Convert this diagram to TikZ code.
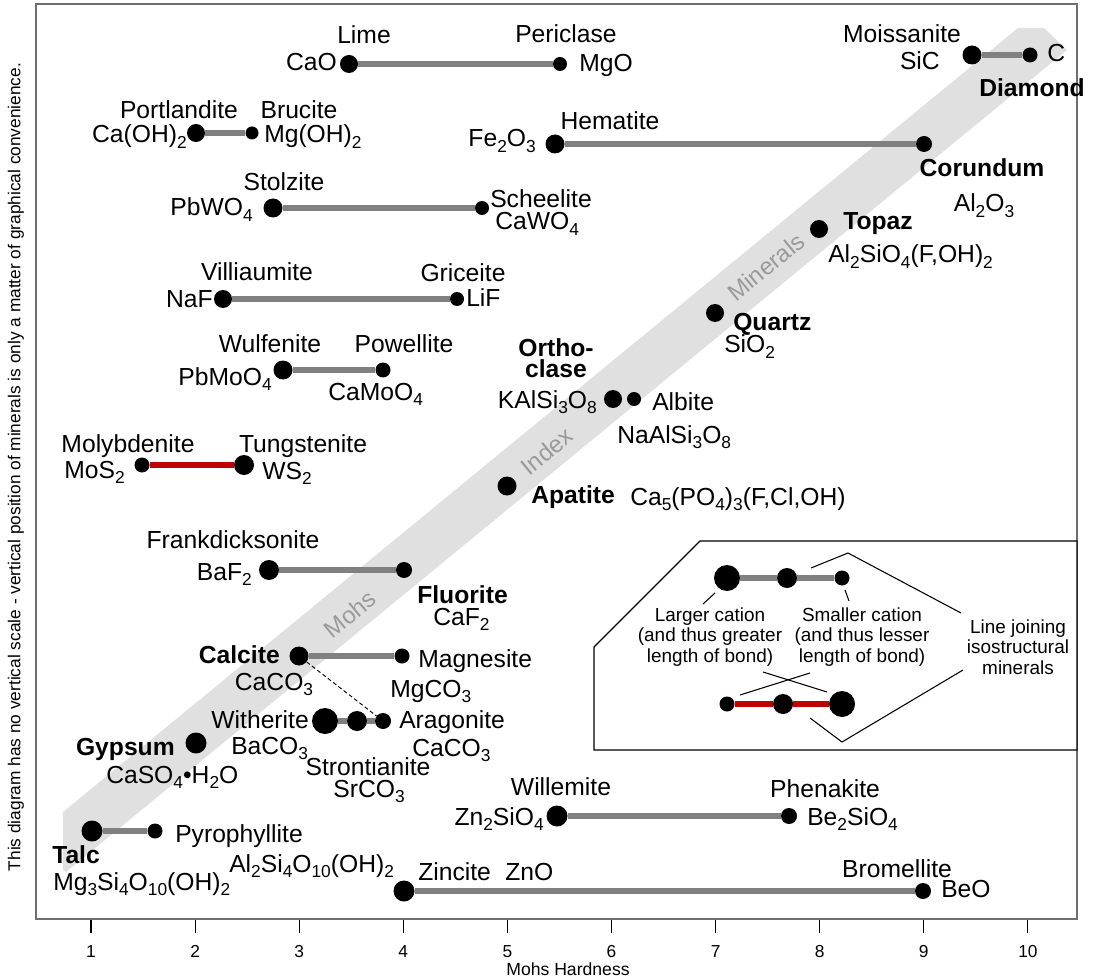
\documentclass[tikz,border=0pt]{standalone}
\usepackage{fontspec}
\setmainfont{Liberation Sans}
\definecolor{bandgray}{HTML}{E0E0E0}
\definecolor{bondgray}{HTML}{808080}
\definecolor{bondred}{HTML}{C00000}
\definecolor{framegray}{HTML}{6E6E6E}
\definecolor{bandtext}{HTML}{9A9A9A}
\newcommand{\lblfont}{\fontsize{18.5}{21}\selectfont}
\newcommand{\legfont}{\fontsize{14.2}{15.5}\selectfont}
\newcommand{\subs}[1]{\raisebox{-0.22em}{\fontsize{13}{13}\selectfont #1}}
\begin{document}
\begin{tikzpicture}[x=0.75pt,y=-0.75pt,
  mdot/.style={circle,fill=black,inner sep=0pt,minimum size=#1*0.75pt},
  bondline/.style={line width=4pt,draw=bondgray},
  redline/.style={line width=4pt,draw=bondred},
  lbl/.style={inner sep=0pt,font=\lblfont},
  blbl/.style={inner sep=0pt,font=\lblfont\bfseries},
  leg/.style={inner sep=0pt,font=\legfont,align=center},
  bandlbl/.style={inner sep=0pt,font=\fontsize{18}{20}\selectfont,text=bandtext,rotate=39.4},
  thinline/.style={line width=0.8pt,draw=black},
]
\useasboundingbox (0,0) rectangle (1095,980);
% band
\fill[bandgray] (63,812) -- (1018,28) -- (1044,28) -- (1067,50) -- (66,872) -- (63,870) -- cycle;
\node[bandlbl] (tmohs) at (350,614) {Mohs};
\node[bandlbl] (tindex) at (547,451) {Index};
\node[bandlbl] (tmin) at (766,267) {Minerals};
% frame
\draw[framegray,line width=1.4pt] (36,4) rectangle (1077,919);
% axis
\foreach \i in {1,...,10}{
  \draw[black,line width=0.8pt] ({91+(\i-1)*104.1},920) -- ({91+(\i-1)*104.1},933);
  \node[inner sep=0pt,font=\fontsize{13}{14}\selectfont,anchor=base] (tick\i) at ({91+(\i-1)*104.1},957) {\i};
}
\node[inner sep=0pt,font=\fontsize{13.2}{14}\selectfont,anchor=base] (xlabel) at (568,975) {Mohs Hardness};
\node[inner sep=0pt,rotate=90] (vnote) at (16,467) {\resizebox{606pt}{!}{This diagram has no vertical scale - vertical position of minerals is only a matter of graphical convenience.}};

% dots
\node[mdot=18] (cao) at (349,64) {};
\node[mdot=14] (mgo) at (560,64) {};
\node[mdot=19] (sic) at (972,55) {};
\node[mdot=15] (cdia) at (1030,55) {};
\node[mdot=18] (caoh) at (196,133) {};
\node[mdot=13] (mgoh) at (252,133) {};
\node[mdot=19] (fe) at (555,144) {};
\node[mdot=16] (al) at (924,144) {};
\node[mdot=19] (pbw) at (273,208) {};
\node[mdot=14] (caw) at (482,208) {};
\node[mdot=18] (topaz) at (819,229) {};
\node[mdot=18] (naf) at (223,299) {};
\node[mdot=14] (lif) at (457,299) {};
\node[mdot=18] (quartz) at (715,313) {};
\node[mdot=19] (pbmo) at (283,370) {};
\node[mdot=15] (camo) at (383,370) {};
\node[mdot=18] (ortho) at (613,399) {};
\node[mdot=14] (albite) at (634,399) {};
\node[mdot=15] (mos) at (142,465) {};
\node[mdot=20] (ws) at (244,465) {};
\node[mdot=19] (apatite) at (507,486) {};
\node[mdot=20] (baf) at (269,570) {};
\node[mdot=16] (caf) at (404,570) {};
\node[mdot=19] (calcite) at (299,656) {};
\node[mdot=15] (magn) at (402,656) {};
\node[mdot=26] (with) at (325,721) {};
\node[mdot=20] (stron) at (357,721) {};
\node[mdot=16] (arag) at (383,721) {};
\node[mdot=21] (gyp) at (196,743) {};
\node[mdot=21] (zn2) at (557,816) {};
\node[mdot=16] (be2) at (789,816) {};
\node[mdot=21] (talc) at (92,831) {};
\node[mdot=15] (pyro) at (155,831) {};
\node[mdot=21] (zinc) at (404,891) {};
\node[mdot=16] (brom) at (923,891) {};

% bonds
\draw[bondline] (cao) -- (mgo);
\draw[bondline] (sic) -- (cdia);
\draw[bondline] (caoh) -- (mgoh);
\draw[bondline] (fe) -- (al);
\draw[bondline] (pbw) -- (caw);
\draw[bondline] (naf) -- (lif);
\draw[bondline] (pbmo) -- (camo);
\draw[redline] (mos) -- (ws);
\draw[bondline] (baf) -- (caf);
\draw[bondline] (calcite) -- (magn);
\draw[bondline] (with) -- (stron) -- (arag);
\draw[bondline] (zn2) -- (be2);
\draw[bondline] (talc) -- (pyro);
\draw[bondline] (zinc) -- (brom);
\draw[line width=0.7pt,dash pattern=on 3pt off 2pt] (calcite) -- (arag);

% labels
\node[lbl,anchor=base] (llime) at (364,44) {Lime};
\node[lbl,anchor=base east] (lcao) at (337,71) {CaO};
\node[lbl,anchor=base] (lper) at (566,43) {Periclase};
\node[lbl,anchor=base west] (lmgo) at (579,72) {MgO};
\node[lbl,anchor=base] (lmoi) at (902,43) {Moissanite};
\node[lbl,anchor=base east] (lsic) at (940,70) {SiC};
\node[lbl,anchor=base west] (lc) at (1047,62) {C};
\node[blbl,anchor=base] (ldia) at (1032,97) {Diamond};
\node[lbl,anchor=base] (lport) at (179,119) {Portlandite};
\node[lbl,anchor=base] (lbru) at (299,119) {Brucite};
\node[lbl,anchor=base east] (lcaoh) at (187,143) {Ca(OH)\subs{2}};
\node[lbl,anchor=base west] (lmgoh) at (264,143) {Mg(OH)\subs{2}};
\node[lbl,anchor=base] (lhem) at (610,130) {Hematite};
\node[lbl,anchor=base east] (lfe) at (536,147) {Fe\subs{2}O\subs{3}};
\node[blbl,anchor=base] (lcor) at (982,177) {Corundum};
\node[lbl,anchor=base] (lal) at (984,212) {Al\subs{2}O\subs{3}};
\node[lbl,anchor=base] (lstol) at (284,191) {Stolzite};
\node[lbl,anchor=base east] (lpbw) at (253,216) {PbWO\subs{4}};
\node[lbl,anchor=base west] (lsch) at (490,208) {Scheelite};
\node[lbl,anchor=base west] (lcaw) at (495,230) {CaWO\subs{4}};
\node[blbl,anchor=base west] (ltop) at (843,230) {Topaz};
\node[lbl,anchor=base west] (ltopf) at (828,263) {Al\subs{2}SiO\subs{4}(F,OH)\subs{2}};
\node[lbl,anchor=base] (lvil) at (257,281) {Villiaumite};
\node[lbl,anchor=base east] (lnaf) at (213,308) {NaF};
\node[lbl,anchor=base] (lgri) at (463,282) {Griceite};
\node[lbl,anchor=base west] (llif) at (466,307) {LiF};
\node[blbl,anchor=base west] (lqua) at (733,330) {Quartz};
\node[lbl,anchor=base west] (lsio) at (724,353) {SiO\subs{2}};
\node[lbl,anchor=base] (lwul) at (270,353) {Wulfenite};
\node[lbl,anchor=base] (lpow) at (404,353) {Powellite};
\node[lbl,anchor=base east] (lpbmo) at (272,385) {PbMoO\subs{4}};
\node[lbl,anchor=base west] (lcamo) at (328,400) {CaMoO\subs{4}};
\node[blbl,anchor=base] (lorth1) at (556,357) {Ortho-};
\node[blbl,anchor=base] (lorth2) at (556,378) {clase};
\node[lbl,anchor=base east] (lkal) at (597,408) {KAlSi\subs{3}O\subs{8}};
\node[lbl,anchor=base west] (lalb) at (652,410) {Albite};
\node[lbl,anchor=base west] (lnaal) at (617,443) {NaAlSi\subs{3}O\subs{8}};
\node[lbl,anchor=base] (lmol) at (128,452) {Molybdenite};
\node[lbl,anchor=base] (ltun) at (303,452) {Tungstenite};
\node[lbl,anchor=base east] (lmos) at (125,478) {MoS\subs{2}};
\node[lbl,anchor=base west] (lws) at (262,479) {WS\subs{2}};
\node[blbl,anchor=base west] (lapa) at (531,503) {Apatite};
\node[lbl,anchor=base west] (lapaf) at (630,505) {Ca\subs{5}(PO\subs{4})\subs{3}(F,Cl,OH)};
\node[lbl,anchor=base] (lfra) at (233,548) {Frankdicksonite};
\node[lbl,anchor=base east] (lbaf) at (252,580) {BaF\subs{2}};
\node[blbl,anchor=base west] (lflu) at (417,603) {Fluorite};
\node[lbl,anchor=base west] (lcaf) at (433,625) {CaF\subs{2}};
\node[blbl,anchor=base east] (lcal) at (280,663) {Calcite};
\node[lbl,anchor=base] (lcaco) at (274,690) {CaCO\subs{3}};
\node[lbl,anchor=base west] (lmag) at (418,667) {Magnesite};
\node[lbl,anchor=base west] (lmgco) at (390,697) {MgCO\subs{3}};
\node[lbl,anchor=base east] (lwit) at (309,728) {Witherite};
\node[lbl,anchor=base west] (lbaco) at (231,754) {BaCO\subs{3}};
\node[lbl,anchor=base west] (lara) at (399,728) {Aragonite};
\node[lbl,anchor=base west] (lcaco2) at (412,756) {CaCO\subs{3}};
\node[lbl,anchor=base] (lstr) at (368,775) {Strontianite};
\node[lbl,anchor=base] (lsrco) at (369,797) {SrCO\subs{3}};
\node[blbl,anchor=base east] (lgyp) at (175,755) {Gypsum};
\node[lbl,anchor=base west] (lcaso) at (106,783) {CaSO\subs{4}•H\subs{2}O};
\node[lbl,anchor=base] (lwil) at (561,795) {Willemite};
\node[lbl,anchor=base east] (lzn2) at (544,825) {Zn\subs{2}SiO\subs{4}};
\node[lbl,anchor=base] (lphe) at (825,797) {Phenakite};
\node[lbl,anchor=base west] (lbe2) at (807,825) {Be\subs{2}SiO\subs{4}};
\node[blbl,anchor=base west] (ltalc) at (52,863) {Talc};
\node[lbl,anchor=base west] (ltalcf) at (53,890) {Mg\subs{3}Si\subs{4}O\subs{10}(OH)\subs{2}};
\node[lbl,anchor=base west] (lpyr) at (175,842) {Pyrophyllite};
\node[lbl,anchor=base west] (lpyrf) at (229,872) {Al\subs{2}Si\subs{4}O\subs{10}(OH)\subs{2}};
\node[lbl,anchor=base west] (lzinc) at (418,880) {Zincite};
\node[lbl,anchor=base west] (lzno) at (505,880) {ZnO};
\node[lbl,anchor=base] (lbrom) at (897,877) {Bromellite};
\node[lbl,anchor=base west] (lbeo) at (941,897) {BeO};

% legend
\draw[fill=white,line width=0.9pt] (700,541) -- (1077,541) -- (1077,750) -- (594,750) -- (594,647) -- cycle;
\node[mdot=26] (gb1) at (727,578) {};
\node[mdot=20] (gb2) at (787,578) {};
\node[mdot=15] (gb3) at (842,578) {};
\draw[bondline] (gb1) -- (gb2) -- (gb3);
\node[mdot=15] (rb1) at (727,704) {};
\node[mdot=20] (rb2) at (783,704) {};
\node[mdot=26] (rb3) at (842,704) {};
\draw[redline] (rb1) -- (rb2) -- (rb3);
\node[leg] (tlarge) at (710,637) {Larger cation\\(and thus greater\\length of bond)};
\node[leg] (tsmall) at (862,637) {Smaller cation\\(and thus lesser\\length of bond)};
\node[leg] (tline) at (1018,647) {Line joining\\isostructural\\minerals};
\coordinate (a1) at (715,593); \coordinate (a2) at (703,604);
\coordinate (b1) at (845,590); \coordinate (b2) at (849,601);
\coordinate (c1) at (811,568); \coordinate (c2) at (848,553); \coordinate (c3) at (961,613);
\coordinate (d1) at (740,695); \coordinate (d2) at (810,673);
\coordinate (e1) at (763,672); \coordinate (e2) at (827,692);
\coordinate (f1) at (810,718); \coordinate (f2) at (842,742); \coordinate (f3) at (963,670);
\draw[thinline] (a1) -- (a2);
\draw[thinline] (b1) -- (b2);
\draw[thinline] (c1) -- (c2) -- (c3);
\draw[thinline] (d1) -- (d2);
\draw[thinline] (e1) -- (e2);
\draw[thinline] (f1) -- (f2) -- (f3);
\end{tikzpicture}
\end{document}
